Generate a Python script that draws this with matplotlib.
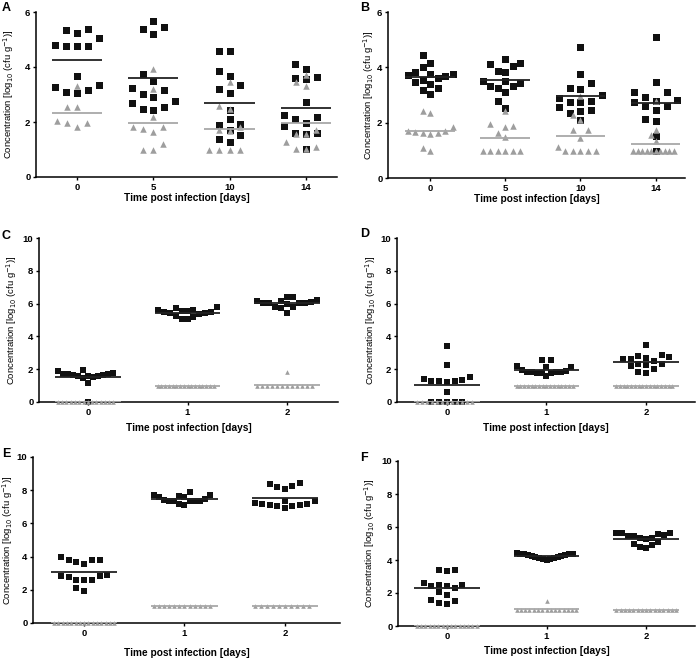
import numpy as np
import matplotlib.pyplot as plt

plt.rcParams['font.family'] = ['Liberation Sans', 'DejaVu Sans']

# ---- data (log10 cfu/g), black squares and grey triangles per time point ----
a_days = ['0', '5', '10', '14']
a_black = [
    [5.05, 5.36, 5.24, 5.39, 4.78, 4.75, 4.75, 4.79, 3.66, 3.15, 3.05, 3.09, 3.29, 3.35],
    [5.68, 5.37, 5.47, 5.19, 3.75, 3.50, 3.22, 3.16, 2.92, 3.02, 2.70, 2.77, 2.46, 2.56, 2.44],
    [4.59, 4.59, 3.87, 3.68, 3.35, 3.20, 3.07, 2.44, 1.93, 2.10, 1.89, 1.71, 1.53, 1.37, 1.28],
    [4.10, 3.93, 3.62, 3.56, 3.61, 2.74, 2.19, 1.95, 2.10, 2.25, 1.87, 1.59, 1.56, 1.61, 1.02],
]
a_gray = [
    [3.32, 2.53, 2.53, 1.97, 1.83, 1.95, 2.04],
    [3.93, 3.19, 2.19, 1.83, 1.73, 1.65, 1.81, 1.19, 0.98, 0.98],
    [3.44, 2.58, 2.47, 1.83, 1.67, 1.70, 0.98, 0.98, 0.98, 0.98],
    [3.71, 3.47, 3.31, 1.71, 1.28, 1.56, 1.56, 1.10, 1.02, 1.02],
]

b_days = ['0', '5', '10', '14']
b_black = [
    [4.45, 4.00, 4.14, 3.84, 3.75, 3.69, 3.54, 3.72, 3.76, 3.40, 3.48, 3.60, 3.18, 3.25, 3.04],
    [4.14, 4.06, 4.30, 4.11, 3.84, 3.88, 3.52, 3.42, 3.32, 3.26, 3.12, 3.32, 3.51, 2.79, 2.52],
    [4.72, 3.76, 3.44, 3.24, 3.21, 3.00, 2.90, 2.76, 2.76, 2.79, 2.43, 2.55, 2.46, 2.34, 2.10],
    [5.08, 3.48, 3.10, 3.10, 2.94, 2.79, 2.76, 2.82, 2.60, 2.60, 2.46, 2.12, 2.06, 1.53, 0.99],
]
b_gray = [
    [2.36, 2.43, 1.70, 1.66, 1.62, 1.60, 1.62, 1.70, 1.85, 0.99, 1.07],
    [2.43, 1.88, 1.94, 1.83, 1.64, 1.49, 0.99, 0.99, 0.99, 0.99, 0.99, 0.99],
    [2.96, 2.28, 2.10, 1.73, 1.73, 1.43, 0.99, 0.99, 0.99, 0.99, 0.99, 1.11],
    [2.79, 1.73, 1.55, 1.35, 0.99, 0.99, 0.99, 0.99, 0.99, 0.99, 0.99, 0.99, 0.99, 0.99],
]

cf_days = ['0', '1', '2']
c_black = [
    [1.93, 1.61, 1.77, 1.56, 1.73, 1.46, 1.16, 1.67, 1.52, 1.71, 1.56, 1.73, 1.67, 1.87, 0.0],
    [5.53, 5.49, 5.79, 5.43, 5.22, 5.63, 5.08, 5.53, 5.08, 5.63, 5.18, 5.73, 5.39, 5.43, 5.49],
    [6.38, 6.18, 6.05, 5.79, 6.05, 6.02, 6.42, 5.43, 5.79, 5.73, 6.08, 6.05, 6.14, 6.20, 5.95],
]
c_gray = [
    [0, 0, 0, 0, 0, 0, 0, 0, 0, 0, 0, 0, 0, 0],
    [1, 1, 1, 1, 1, 1, 1, 1, 1, 1, 1, 1, 1, 1, 1, 1],
    [1.83, 1, 1, 1, 1, 1, 1, 1, 1, 1, 1, 1, 1],
]

d_black = [
    [3.39, 2.24, 1.52, 1.32, 1.26, 1.22, 1.26, 1.30, 1.40, 0.61, 0, 0, 0, 0, 0],
    [1.97, 1.85, 1.85, 1.77, 2.17, 1.77, 2.11, 1.56, 2.11, 1.77, 2.54, 2.54, 1.83, 1.83, 1.87],
    [2.64, 2.89, 2.72, 3.46, 2.34, 2.17, 2.24, 1.83, 2.34, 1.77, 2.68, 2.48, 2.03, 2.78, 2.62],
]
d_gray = [
    [0, 0, 0, 0, 0, 0, 0, 0, 0, 0, 0, 0],
    [1, 1, 1, 1, 1, 1, 1, 1, 1, 1, 1, 1, 1, 1, 1, 1],
    [1, 1, 1, 1, 1, 1, 1, 1, 1, 1, 1, 1, 1, 1, 1, 1],
]

e_black = [
    [3.98, 3.78, 3.67, 3.55, 3.78, 3.82, 2.91, 2.81, 2.61, 2.57, 2.61, 2.75, 2.85, 2.11, 1.95],
    [7.59, 7.43, 7.33, 7.73, 7.33, 7.19, 7.63, 7.13, 7.73, 7.33, 7.89, 7.33, 7.33, 7.47, 7.59],
    [8.43, 8.27, 8.09, 8.17, 8.37, 7.37, 7.23, 7.19, 7.09, 7.03, 6.93, 7.07, 7.13, 7.19, 7.33],
]
e_gray = [
    [0, 0, 0, 0, 0, 0, 0, 0, 0, 0, 0, 0, 0, 0, 0],
    [1, 1, 1, 1, 1, 1, 1, 1, 1, 1, 1, 1.05],
    [1, 1, 1, 1, 1, 1, 1, 1, 1, 1],
]

f_black = [
    [3.41, 3.33, 3.37, 2.51, 2.42, 2.32, 2.42, 2.46, 2.61, 2.06, 1.90, 1.56, 1.41, 1.31, 1.52],
    [4.42, 4.38, 4.35, 4.30, 4.25, 4.20, 4.14, 4.08, 4.02, 4.08, 4.14, 4.20, 4.26, 4.32, 4.36, 4.38],
    [5.65, 5.63, 5.43, 5.35, 5.25, 5.35, 5.43, 5.49, 5.59, 5.65, 4.94, 4.78, 4.74, 4.88, 5.09],
]
f_gray = [
    [0, 0, 0, 0, 0, 0, 0, 0, 0, 0, 0, 0, 0, 0, 0],
    [1.52, 1, 1, 1, 1, 1, 1, 1, 1, 1, 1, 1, 1, 1, 1, 1],
    [1, 1, 1, 1, 1, 1, 1, 1, 1, 1, 1, 1, 1, 1, 1],
]

BLACK = '#111111'
GREY = '#9e9e9e'
W, H = 696, 661


def rect(l, r, t, b):
    return [l / W, 1 - b / H, (r - l) / W, (b - t) / H]


def swarm(vals, ax, cw, ch, max_half=0.3):
    # simple beeswarm in pixel space, then squeeze into the column width
    bb = ax.get_window_extent()
    x0, x1 = ax.get_xlim()
    y0, y1 = ax.get_ylim()
    xs = bb.width / (x1 - x0)
    ys = bb.height / (y1 - y0)
    vals = np.asarray(vals, float)
    offs = np.zeros(len(vals))
    placed = []
    for i in np.argsort(vals, kind='stable'):
        y = vals[i] * ys
        near = [p for p in placed if abs(p[1] - y) < ch]
        cands = [0.0]
        for px, py in near:
            cands += [px - cw, px + cw]
        cands = sorted(set(cands), key=lambda c: (abs(c), c))
        for c in cands:
            if all(abs(c - px) >= cw - 1e-6 for px, py in near):
                break
        placed.append((c, y))
        offs[i] = c / xs
    m = np.abs(offs).max()
    if m > max_half:
        offs *= max_half / m
    return offs


def panel(pos, xlim, ylim, yticks, days, black, gray, sq, tri, spread, letter, letter_xy,
          ylab_x, xlab_y):
    ax = fig.add_axes(rect(*pos))
    ax.set_xlim(xlim)
    ax.set_ylim(ylim)
    for i, (bv, gv) in enumerate(zip(black, gray)):
        ob = swarm(bv, ax, sq * spread, sq * 1.3)
        og = swarm(gv, ax, tri * spread, tri * 1.3)
        ax.scatter(i + ob, bv, marker='s', s=(sq * 0.72) ** 2, color=BLACK,
                   linewidths=0, zorder=3, clip_on=False)
        ax.scatter(i + og, gv, marker='^', s=(tri * 0.72) ** 2, color=GREY,
                   linewidths=0, zorder=4, clip_on=False)
        ax.hlines(np.mean(bv), i - 0.33, i + 0.33, color='#222222', lw=1.3, zorder=5)
        ax.hlines(np.mean(gv), i - 0.33, i + 0.33, color='#a8a8a8', lw=1.3, zorder=5)

    ax.set_xticks(range(len(days)))
    ax.set_xticklabels(days)
    ax.set_yticks(yticks)
    for sp in ['top', 'right']:
        ax.spines[sp].set_visible(False)
    for sp in ['left', 'bottom']:
        ax.spines[sp].set_linewidth(1.1)
    ax.tick_params(length=2.5, width=1.0, pad=1.5, labelsize=6.8)
    for t in ax.get_xticklabels() + ax.get_yticklabels():
        t.set_fontweight('bold')

    ax.set_ylabel('Concentration [log$_{10}$ (cfu g$^{-1}$)]', fontsize=6.8)
    ax.yaxis.set_label_coords(ylab_x, 0.5)
    ax.set_xlabel('Time post infection [days]', fontsize=7.3, fontweight='bold')
    ax.xaxis.set_label_coords(0.5, xlab_y)
    fig.text(letter_xy[0] / W, 1 - letter_xy[1] / H, letter, fontsize=9,
             fontweight='bold', ha='left', va='top')
    return ax


fig = plt.figure(figsize=(6.96, 6.61), dpi=100)

panel((36, 337, 12, 177), (-0.54, 3.41), (0, 6), [0, 2, 4, 6], a_days, a_black, a_gray,
      7.0, 6.5, 1.55, 'A', (2, 2), -0.066, -0.095)
panel((388, 685, 12, 178), (-0.56, 3.39), (0, 6), [0, 2, 4, 6], b_days, b_black, b_gray,
      7.0, 6.5, 1.55, 'B', (360, 2), -0.040, -0.095)
panel((39, 338, 238, 402), (-0.49, 2.51), (0, 10), [0, 2, 4, 6, 8, 10], cf_days, c_black, c_gray,
      5.5, 4.6, 1.4, 'C', (2, 230), -0.066, -0.13)
panel((397, 695, 238, 402), (-0.50, 2.49), (0, 10), [0, 2, 4, 6, 8, 10], cf_days, d_black, d_gray,
      5.5, 4.6, 1.4, 'D', (360, 228), -0.063, -0.13)
panel((33, 340, 457, 623), (-0.51, 2.55), (0, 10), [0, 2, 4, 6, 8, 10], cf_days, e_black, e_gray,
      5.5, 4.6, 1.4, 'E', (2, 448), -0.058, -0.15)
panel((398, 695, 461, 626), (-0.49, 2.49), (0, 10), [0, 2, 4, 6, 8, 10], cf_days, f_black, f_gray,
      5.5, 4.6, 1.4, 'F', (360, 452), -0.072, -0.12)

fig.savefig('out.png', dpi=100)
